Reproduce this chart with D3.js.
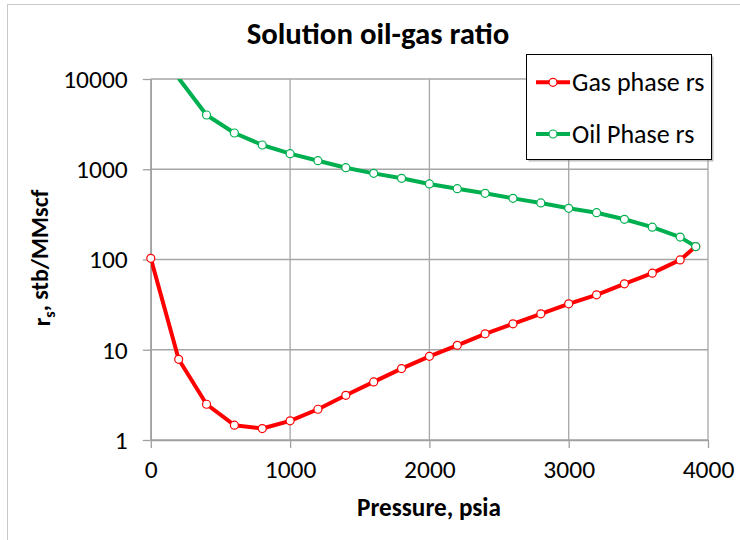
<!DOCTYPE html>
<html>
<head>
<meta charset="utf-8">
<script src="https://cdn.jsdelivr.net/npm/d3@7"></script>
<style>
  html, body { margin: 0; padding: 0; background: #fff; }
  svg { display: block; }
  text { font-family: Carlito, Lato, "Open Sans", sans-serif; fill: #000; }
</style>
</head>
<body>
<svg id="chart" width="740" height="540"></svg>
<script>
// Pressure steps (psia) shared by both curves
const gasPressure = [0, 200, 400, 600, 800, 1000, 1200, 1400, 1600, 1800, 2000, 2200, 2400, 2600, 2800, 3000, 3200, 3400, 3600, 3800, 3912];
// Gas phase solution oil-gas ratio, stb/MMscf
const gasRs = [103, 7.84, 2.49, 1.46, 1.34, 1.63, 2.19, 3.13, 4.40, 6.18, 8.45, 11.2, 15.0, 19.4, 25.0, 32.3, 40.6, 53.7, 70.6, 99, 139];

const oilPressure = [200, 400, 600, 800, 1000, 1200, 1400, 1600, 1800, 2000, 2200, 2400, 2600, 2800, 3000, 3200, 3400, 3600, 3800, 3912];
// Oil phase solution oil-gas ratio, stb/MMscf
const oilRs = [10200, 3990, 2523, 1857, 1488, 1244, 1040, 901, 793, 687, 609, 541, 476, 423, 369, 330, 279, 228, 177, 139];

const xTicks = [0, 1000, 2000, 3000, 4000];
const yTicks = [1, 10, 100, 1000, 10000];

const seriesNames = ["Gas phase rs", "Oil Phase rs"];
const seriesColors = ["#ff0000", "#00b050"];

const svg = d3.select("#chart");

// outer chart frame
svg.append("rect")
  .attr("x", 7.5).attr("y", 4.5)
  .attr("width", 740).attr("height", 540)
  .attr("fill", "none").attr("stroke", "#c8c8c8").attr("stroke-width", 1);

const plot = { left: 150.8, right: 708, top: 79, bottom: 440 };

const x = d3.scaleLinear().domain([0, 4000]).range([plot.left, plot.right]);
const y = d3.scaleLog().domain([1, 10000]).range([plot.bottom, plot.top]);

svg.append("defs").append("clipPath").attr("id", "plotClip")
  .append("rect")
  .attr("x", plot.left).attr("y", plot.top)
  .attr("width", plot.right - plot.left).attr("height", plot.bottom - plot.top);

// gridlines
const grid = svg.append("g").attr("stroke", "#a6a6a6").attr("stroke-width", 1.3);
xTicks.forEach(t => {
  grid.append("line")
    .attr("x1", x(t)).attr("x2", x(t))
    .attr("y1", plot.top).attr("y2", plot.bottom);
});
yTicks.forEach(t => {
  grid.append("line")
    .attr("x1", plot.left).attr("x2", plot.right)
    .attr("y1", y(t)).attr("y2", y(t));
});

// axes
const xAxis = d3.axisBottom(x).tickValues(xTicks).tickFormat(d3.format("d"))
  .tickSizeInner(8).tickSizeOuter(0).tickPadding(12);
const yAxis = d3.axisLeft(y).tickValues(yTicks).tickFormat(d3.format("d"))
  .tickSizeInner(8).tickSizeOuter(0).tickPadding(15);

const gx = svg.append("g").attr("transform", `translate(0,${plot.bottom})`).call(xAxis);
const gy = svg.append("g").attr("transform", `translate(${plot.left},0)`).call(yAxis);
[gx, gy].forEach(g => {
  g.select(".domain").attr("stroke", "#a0a0a0").attr("stroke-width", 1.3);
  g.selectAll(".tick line").attr("stroke", "#a0a0a0").attr("stroke-width", 1.3);
  g.selectAll(".tick text").style("font-size", "25.5px").attr("fill", "#000");
});
gy.selectAll(".tick text").attr("dy", "0.33em");

// series
const series = [
  { name: seriesNames[0], color: seriesColors[0], px: gasPressure, vals: gasRs },
  { name: seriesNames[1], color: seriesColors[1], px: oilPressure, vals: oilRs }
];

const line = d3.line().x(d => x(d[0])).y(d => y(d[1]));

series.forEach(s => {
  const pts = s.px.map((p, i) => [p, s.vals[i]]);
  svg.append("path")
    .datum(pts)
    .attr("clip-path", "url(#plotClip)")
    .attr("fill", "none")
    .attr("stroke", s.color)
    .attr("stroke-width", 4)
    .attr("stroke-linejoin", "round")
    .attr("d", line);
  svg.append("g").selectAll("circle")
    .data(pts.filter(d => d[1] <= 10000 && d[1] >= 1))
    .join("circle")
    .attr("cx", d => x(d[0]))
    .attr("cy", d => y(d[1]))
    .attr("r", 4)
    .attr("fill", "#fff")
    .attr("stroke", s.color)
    .attr("stroke-width", 1.2);
});

// title
svg.append("text")
  .attr("x", 378).attr("y", 43.5)
  .attr("text-anchor", "middle")
  .style("font-size", "30.8px").style("font-weight", "bold")
  .text("Solution oil-gas ratio");

// x axis title
svg.append("text")
  .attr("x", 429).attr("y", 516)
  .attr("text-anchor", "middle")
  .style("font-size", "25.2px").style("font-weight", "bold")
  .text("Pressure, psia");

// y axis title with subscript
const yTitle = svg.append("text")
  .attr("transform", "translate(50,258) rotate(-90)")
  .attr("text-anchor", "middle")
  .style("font-size", "24px").style("font-weight", "bold");
yTitle.append("tspan").text("r");
yTitle.append("tspan").attr("dy", "0.3em").style("font-size", "16px").text("s");
yTitle.append("tspan").attr("dy", "-0.3em").text(", stb/MMscf");

// legend
const lg = svg.append("g");
lg.append("rect")
  .attr("x", 528.5).attr("y", 56.5).attr("width", 185).attr("height", 105)
  .attr("fill", "#7f7f7f").attr("opacity", 0.5);
lg.append("rect")
  .attr("x", 526.5).attr("y", 54.5).attr("width", 185).attr("height", 105)
  .attr("fill", "#fff").attr("stroke", "#000").attr("stroke-width", 1);

const legendY = [82.3, 134];
series.forEach((s, i) => {
  const ly = legendY[i];
  lg.append("line")
    .attr("x1", 536).attr("x2", 570).attr("y1", ly).attr("y2", ly)
    .attr("stroke", s.color).attr("stroke-width", 4);
  lg.append("circle")
    .attr("cx", 553).attr("cy", ly).attr("r", 4)
    .attr("fill", "#fff").attr("stroke", s.color).attr("stroke-width", 1.2);
  lg.append("text")
    .attr("x", 572).attr("y", ly).attr("dy", "0.33em")
    .style("font-size", "26px")
    .text(s.name);
});
</script>
</body>
</html>
